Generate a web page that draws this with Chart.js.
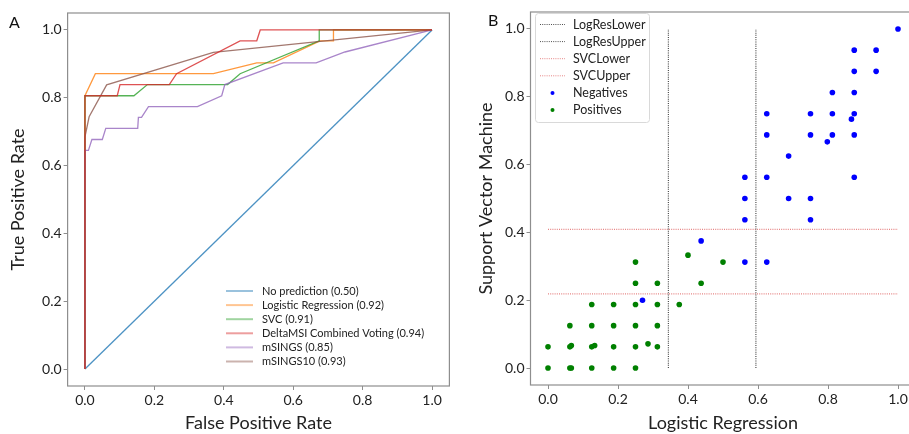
<!DOCTYPE html>
<html>
<head>
<meta charset="utf-8">
<script src="https://cdn.jsdelivr.net/npm/chart.js@4.4.1/dist/chart.umd.min.js"></script>
<style>
  html, body { margin: 0; padding: 0; background: #fff; overflow: hidden; width: 909px; height: 434px; }
  canvas { position: absolute; top: 0; }
  #chartA { left: 0; }
  #chartB { left: 460px; }
  .panel { position: absolute; font-family: Lato, sans-serif; font-size: 16px; color: #111; }
</style>
</head>
<body>
<canvas id="chartA" width="455" height="434"></canvas>
<canvas id="chartB" width="460" height="434"></canvas>
<div class="panel" style="left:9px;top:12px">A</div>
<div class="panel" style="left:488px;top:10px">B</div>
<script>
// ---- panel A: ROC curves ----
const noPredFpr = [0, 1];
const noPredTpr = [0, 1];
const logRegFpr = [0, 0, 0.03, 0.37, 0.495, 0.543, 0.677, 0.716, 0.716, 1];
const logRegTpr = [0, 0.806, 0.871, 0.871, 0.903, 0.903, 0.968, 0.968, 1, 1];
const svcFpr = [0, 0, 0.141, 0.18, 0.411, 0.447, 0.675, 0.675, 1];
const svcTpr = [0, 0.806, 0.806, 0.839, 0.839, 0.871, 0.968, 1, 1];
const voteFpr = [0, 0, 0.093, 0.101, 0.243, 0.264, 0.447, 0.495, 0.505, 1];
const voteTpr = [0, 0.806, 0.806, 0.839, 0.839, 0.871, 0.968, 0.968, 1, 1];
const msingsFpr = [0, 0, 0.01, 0.02, 0.05, 0.06, 0.152, 0.154, 0.163, 0.183, 0.324, 0.394, 0.403, 0.571, 0.666, 0.749, 1];
const msingsTpr = [0, 0.645, 0.645, 0.677, 0.677, 0.71, 0.71, 0.742, 0.742, 0.774, 0.774, 0.806, 0.839, 0.903, 0.903, 0.935, 1];
const msings10Fpr = [0, 0, 0.012, 0.0625, 0.37, 1];
const msings10Tpr = [0, 0.685, 0.744, 0.838, 0.934, 1];

const rocLabels = ['No prediction (0.50)', 'Logistic Regression (0.92)', 'SVC (0.91)',
  'DeltaMSI Combined Voting (0.94)', 'mSINGS (0.85)', 'mSINGS10 (0.93)'];
const rocColors = ['31,119,180', '255,127,14', '44,160,44', '214,39,40', '148,103,189', '140,86,75'];

// ---- panel B: classifier scores ----
const negX = [1, 0.875, 0.9375, 0.875, 0.9375, 0.8125, 0.875, 0.625, 0.75, 0.8125, 0.875, 0.867,
  0.625, 0.75, 0.8125, 0.875, 0.798, 0.6875, 0.5625, 0.625, 0.875, 0.5625, 0.6875, 0.75,
  0.5625, 0.75, 0.4375, 0.5625, 0.625, 0.27];
const negY = [1, 0.9375, 0.9375, 0.875, 0.875, 0.8125, 0.8125, 0.75, 0.75, 0.75, 0.75, 0.734,
  0.6875, 0.6875, 0.6875, 0.6875, 0.667, 0.625, 0.5625, 0.5625, 0.5625, 0.5, 0.5, 0.5,
  0.4375, 0.4375, 0.375, 0.3125, 0.3125, 0.2];
const posX = [0.4, 0.25, 0.5, 0.25, 0.3125, 0.4375, 0.125, 0.1875, 0.25, 0.3125, 0.375,
  0.0625, 0.125, 0.1875, 0.25, 0.3125, 0, 0.0625, 0.0667, 0.125, 0.1333, 0.1875, 0.25, 0.2857, 0.3125,
  0, 0.0625, 0.0667, 0.125, 0.1875, 0.25];
const posY = [0.333, 0.3125, 0.3125, 0.25, 0.25, 0.25, 0.1875, 0.1875, 0.1875, 0.1875, 0.1875,
  0.125, 0.125, 0.125, 0.125, 0.125, 0.0625, 0.0625, 0.0667, 0.0625, 0.0667, 0.0625, 0.0625, 0.0714, 0.0625,
  0, 0, 0, 0, 0, 0];
const logResLower = 0.344, logResUpper = 0.594;
const svcLower = 0.219, svcUpper = 0.409;
const cutLabels = ['LogResLower', 'LogResUpper', 'SVCLower', 'SVCUpper', 'Negatives', 'Positives'];

const tickVals = [0, 0.2, 0.4, 0.6, 0.8, 1.0];
const spine = '#8e8e8e';
const FONT = 'Lato, "Open Sans", sans-serif';

function pts(xs, ys) { return xs.map((x, i) => ({ x: x, y: ys[i] })); }

function axis(title, size, titlePad, isX) {
  return {
    type: 'linear', min: -0.05, max: 1.05,
    afterBuildTicks: s => { s.ticks = tickVals.map(v => ({ value: v })); },
    afterFit: s => { if (isX) s.height = size; else s.width = size; },
    ticks: { color: '#222', font: { family: FONT, size: 14 }, padding: 2,
      callback: v => v.toFixed(1), maxRotation: 0 },
    grid: { display: true, drawOnChartArea: false, drawTicks: true, tickLength: 4, color: spine },
    border: { display: false },
    title: { display: true, text: title, color: '#222', font: { family: FONT, size: 18 }, padding: titlePad }
  };
}

// box round the plot, like matplotlib spines
const frame = {
  id: 'frame',
  afterDraw(chart) {
    const a = chart.chartArea, ctx = chart.ctx;
    ctx.save();
    ctx.strokeStyle = spine; ctx.lineWidth = 1.2;
    ctx.strokeRect(a.left, a.top, a.right - a.left, a.bottom - a.top);
    ctx.restore();
  }
};

const legendA = {
  id: 'legendA',
  afterDraw(chart) {
    const ctx = chart.ctx;
    ctx.save();
    ctx.font = '11px ' + FONT;
    ctx.textBaseline = 'middle';
    rocLabels.forEach((lab, i) => {
      const y = 291 + i * 14.1;
      ctx.strokeStyle = 'rgba(' + rocColors[i] + ',0.45)';
      ctx.lineWidth = 2;
      ctx.beginPath(); ctx.moveTo(226, y); ctx.lineTo(253, y); ctx.stroke();
      ctx.fillStyle = '#222';
      ctx.fillText(lab, 262, y);
    });
    ctx.restore();
  }
};

const legendB = {
  id: 'legendB',
  afterDraw(chart) {
    const ctx = chart.ctx;
    ctx.save();
    ctx.fillStyle = 'rgba(255,255,255,0.85)';
    ctx.strokeStyle = '#d9d9d9'; ctx.lineWidth = 1;
    ctx.beginPath(); ctx.roundRect(75.5, 13.5, 114, 109, 3); ctx.fill(); ctx.stroke();
    ctx.font = '12.5px ' + FONT;
    ctx.textBaseline = 'middle';
    const cols = ['rgba(60,60,60,0.9)', 'rgba(60,60,60,0.9)', 'rgba(220,80,80,0.7)', 'rgba(220,80,80,0.7)', '#0000ff', '#008000'];
    cutLabels.forEach((lab, i) => {
      const y = 24.5 + i * 17.1;
      if (i < 4) {
        ctx.strokeStyle = cols[i]; ctx.lineWidth = 1; ctx.setLineDash([1, 1.2]);
        ctx.beginPath(); ctx.moveTo(80, y); ctx.lineTo(105, y); ctx.stroke();
        ctx.setLineDash([]);
      } else {
        ctx.fillStyle = cols[i];
        ctx.beginPath(); ctx.arc(92.5, y, 2, 0, Math.PI * 2); ctx.fill();
      }
      ctx.fillStyle = '#222';
      ctx.fillText(lab, 113, y);
    });
    ctx.restore();
  }
};

const rocSeries = [[noPredFpr, noPredTpr], [logRegFpr, logRegTpr], [svcFpr, svcTpr],
  [voteFpr, voteTpr], [msingsFpr, msingsTpr], [msings10Fpr, msings10Tpr]];
// lower order is painted on top; red ends up over the others
const rocOrder = [6, 5, 4, 1, 3, 2];

new Chart(document.getElementById('chartA').getContext('2d'), {
  type: 'scatter',
  data: {
    datasets: rocSeries.map((s, i) => ({
      label: rocLabels[i],
      data: pts(s[0], s[1]),
      showLine: true, pointRadius: 0, borderWidth: 1.3,
      borderColor: 'rgba(' + rocColors[i] + ',0.8)',
      order: rocOrder[i]
    }))
  },
  options: {
    responsive: false, animation: false, devicePixelRatio: 1,
    layout: { padding: { left: 0, right: 5.6, top: 13, bottom: 0 } },
    plugins: { legend: { display: false }, tooltip: { enabled: false } },
    scales: {
      x: axis('False Positive Rate', 48, { top: 0, bottom: 0 }, true),
      y: axis('True Positive Rate', 67.6, { top: 7, bottom: 0 }, false)
    }
  },
  plugins: [frame, legendA]
});

function cutLine(x0, y0, x1, y1, col) {
  return { data: [{ x: x0, y: y0 }, { x: x1, y: y1 }], showLine: true, pointRadius: 0,
    borderColor: col, borderWidth: 1.2, borderDash: [1, 1.2] };
}

new Chart(document.getElementById('chartB').getContext('2d'), {
  type: 'scatter',
  data: {
    datasets: [
      { label: 'Positives', data: pts(posX, posY), pointRadius: 2.8, borderWidth: 0, backgroundColor: '#008000' },
      { label: 'Negatives', data: pts(negX, negY), pointRadius: 2.8, borderWidth: 0, backgroundColor: '#0000ff' },
      cutLine(logResLower, 0, logResLower, 1, 'rgba(60,60,60,0.9)'),
      cutLine(logResUpper, 0, logResUpper, 1, 'rgba(60,60,60,0.9)'),
      cutLine(0, svcLower, 1, svcLower, 'rgba(220,80,80,0.7)'),
      cutLine(0, svcUpper, 1, svcUpper, 'rgba(220,80,80,0.7)')
    ]
  },
  options: {
    responsive: false, animation: false, devicePixelRatio: 1,
    layout: { padding: { left: 0, right: 4.5, top: 12, bottom: 0 } },
    plugins: { legend: { display: false }, tooltip: { enabled: false } },
    scales: {
      x: axis('Logistic Regression', 49, { top: 0, bottom: 0 }, true),
      y: axis('Support Vector Machine', 70.5, { top: 15, bottom: 0 }, false)
    }
  },
  plugins: [frame, legendB]
});
</script>
</body>
</html>
